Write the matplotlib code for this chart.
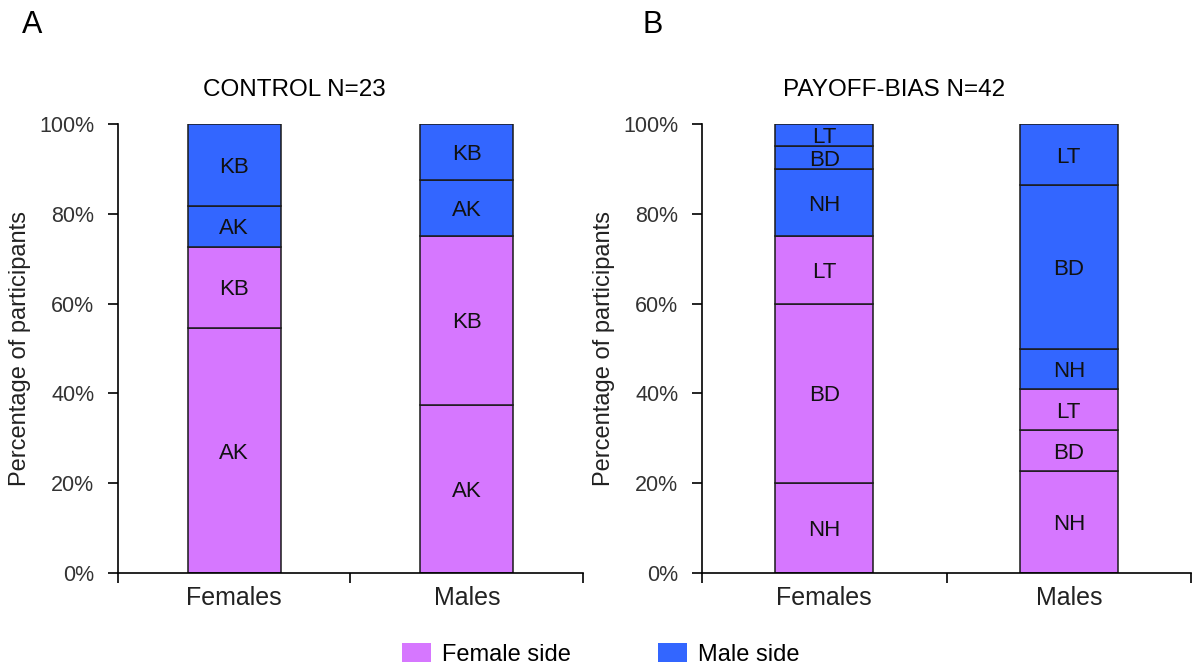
import numpy as np
import matplotlib.pyplot as plt
from matplotlib.patches import Patch

plt.rcParams['font.family'] = ['Liberation Sans', 'DejaVu Sans']

categories = ['Females', 'Males']

# CONTROL: segment labels (bottom to top), same on female and male side
control_labels = ['AK', 'KB']
control_females_fside = [54.5, 18.2]
control_females_mside = [9.1, 18.2]
control_males_fside = [37.5, 37.5]
control_males_mside = [12.5, 12.5]

# PAYOFF-BIAS
payoff_labels = ['NH', 'BD', 'LT']
payoff_females_fside = [20.0, 40.0, 15.0]
payoff_females_mside = [15.0, 5.0, 5.0]
payoff_males_fside = [22.7, 9.1, 9.1]
payoff_males_mside = [9.1, 36.4, 13.6]

pink = '#d677ff'
blue = '#3366ff'
edge = '#1a1a1a'


def stacked(ax, labels, fem_side, male_side, title, title_x):
    for i, (fs, ms) in enumerate(zip(fem_side, male_side)):
        bottom = 0.0
        for vals, col in ((fs, pink), (ms, blue)):
            for lab, v in zip(labels, vals):
                ax.bar(i, v, bottom=bottom, width=0.4, color=col,
                       edgecolor=edge, linewidth=1.1)
                ax.text(i, bottom + v / 2, lab, ha='center',
                        va='center_baseline', fontsize=16, color='#111111')
                bottom += v
    ax.set_xlim(-0.5, 1.5)
    ax.set_ylim(0, 100)
    ax.set_yticks(np.arange(0, 101, 20))
    ax.set_yticklabels(['%d%%' % t for t in range(0, 101, 20)], fontsize=15.5,
                       color='#333333')
    ax.set_xticks([-0.5, 0.5, 1.5])
    ax.set_xticklabels([])
    ax.set_xticks([0, 1], minor=True)
    ax.set_xticklabels(categories, minor=True, fontsize=18, color='#222222')
    ax.tick_params(axis='x', which='minor', length=0, pad=9)
    ax.tick_params(axis='both', which='major', length=7, width=1.2,
                   direction='out')
    ax.tick_params(axis='y', pad=10)
    ax.spines['top'].set_visible(False)
    ax.spines['right'].set_visible(False)
    ax.spines['left'].set_linewidth(1.2)
    ax.spines['bottom'].set_linewidth(1.2)
    ax.set_ylabel('Percentage of participants', fontsize=17, color='#222222',
                  labelpad=6)
    ax.set_title(title, fontsize=17.5, pad=20, x=title_x)


fig = plt.figure(figsize=(11.94, 6.64), dpi=100)
ax1 = fig.add_axes([0.0988, 0.137, 0.3895, 0.6762])
ax2 = fig.add_axes([0.588, 0.137, 0.4095, 0.6762])

stacked(ax1, control_labels, [control_females_fside, control_males_fside],
        [control_females_mside, control_males_mside], 'CONTROL N=23', 0.38)
stacked(ax2, payoff_labels, [payoff_females_fside, payoff_males_fside],
        [payoff_females_mside, payoff_males_mside], 'PAYOFF-BIAS N=42', 0.393)

fig.text(0.018, 0.962, 'A', fontsize=22, va='center')
fig.text(0.538, 0.962, 'B', fontsize=22, va='center')

handles = [Patch(facecolor=pink, edgecolor='none'),
           Patch(facecolor=blue, edgecolor='none')]
fig.legend(handles, ['Female side', 'Male side'], ncol=2, loc='lower center',
           bbox_to_anchor=(0.503, -0.035), frameon=False, fontsize=17,
           handlelength=1.25, handleheight=0.85, columnspacing=3.7,
           handletextpad=0.45)

fig.savefig('out.png', dpi=100)
